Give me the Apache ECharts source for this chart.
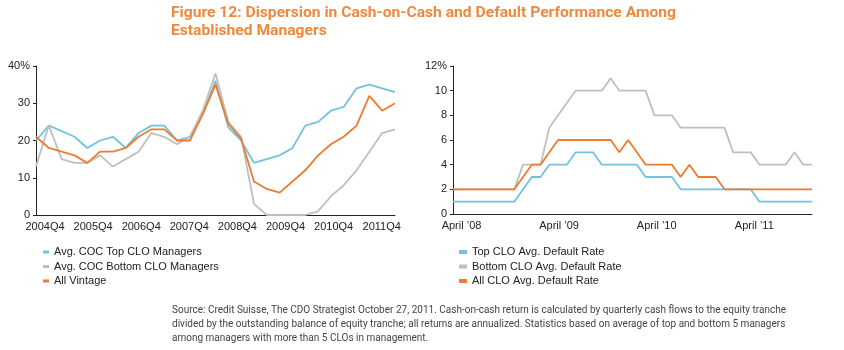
<!DOCTYPE html>
<html>
	<head>
		<meta charset="utf-8">
		<title>Figure 12</title>
		<script src="https://cdn.jsdelivr.net/npm/echarts@6/dist/echarts.min.js"></script>
		<style>
			html, body { margin: 0; padding: 0; background: #fff; }
		</style>
	</head>
	<body>
		<div id="main" style="width: 844px;height: 350px;"></div>
		<script type="text/javascript">
			// left panel: quarterly cash-on-cash returns (%)
			var cocQuarters = ['2004Q4','2005Q1','2005Q2','2005Q3','2005Q4','2006Q1','2006Q2','2006Q3','2006Q4',
				'2007Q1','2007Q2','2007Q3','2007Q4','2008Q1','2008Q2','2008Q3','2008Q4','2009Q1','2009Q2','2009Q3',
				'2009Q4','2010Q1','2010Q2','2010Q3','2010Q4','2011Q1','2011Q2','2011Q3','2011Q4'];
			var cocTickLabels = ['2004Q4','2005Q4','2006Q4','2007Q4','2008Q4','2009Q4','2010Q4','2011Q4'];
			var cocTop    = [20, 24, 22.5, 21, 18, 20, 21, 18, 22, 24, 24, 20, 21, 27, 36, 23.5, 20, 14, 15, 16, 18, 24, 25, 28, 29, 34, 35, 34, 33];
			var cocBottom = [13, 24, 15, 14, 14, 16, 13, 15, 17, 22, 21, 19, 21, 28, 38, 25, 21, 3, 0, 0, 0, 0, 1, 5, 8, 12, 17, 22, 23];
			var cocAll    = [21, 18, 17, 16, 14, 17, 17, 18, 21, 23, 23, 20, 20, 27, 35, 24.5, 20.5, 9, 7, 6, 9, 12, 16, 19, 21, 24, 32, 28, 30];

			// right panel: monthly default rates (%)
			var defMonths = ['Apr-08','May-08','Jun-08','Jul-08','Aug-08','Sep-08','Oct-08','Nov-08','Dec-08',
				'Jan-09','Feb-09','Mar-09','Apr-09','May-09','Jun-09','Jul-09','Aug-09','Sep-09','Oct-09','Nov-09','Dec-09',
				'Jan-10','Feb-10','Mar-10','Apr-10','May-10','Jun-10','Jul-10','Aug-10','Sep-10','Oct-10','Nov-10','Dec-10',
				'Jan-11','Feb-11','Mar-11','Apr-11','May-11','Jun-11','Jul-11','Aug-11','Sep-11'];
			var defTickLabels = ['April \u201908', 'April \u201909', 'April \u201910', 'April \u201911'];
			var defTop    = [1,1,1,1,1,1,1,1,2,3,3,4,4,4,5,5,5,4,4,4,4,4,3,3,3,3,2,2,2,2,2,2,2,2,2,1,1,1,1,1,1,1];
			var defBottom = [2,2,2,2,2,2,2,2,4,4,4,7,8,9,10,10,10,10,11,10,10,10,10,8,8,8,7,7,7,7,7,7,5,5,5,4,4,4,4,5,4,4];
			var defAll    = [2,2,2,2,2,2,2,2,3,4,4,5,6,6,6,6,6,6,6,5,6,5,4,4,4,4,3,4,3,3,3,2,2,2,2,2,2,2,2,2,2,2];

			var titleLines = ['Figure 12: Dispersion in Cash-on-Cash and Default Performance Among', 'Established Managers'];
			var sourceLines = [
				'Source: Credit Suisse, The CDO Strategist October 27, 2011. Cash-on-cash return is calculated by quarterly cash flows to the equity tranche',
				'divided by the outstanding balance of equity tranche; all returns are annualized. Statistics based on average of top and bottom 5 managers',
				'among managers with more than 5 CLOs in management.'
			];

			var BLUE = '#72C2DF', GREY = '#BFBFBF', ORANGE = '#EE7B30';
			var FONT = 'Liberation Sans';

			// squeeze a line of text horizontally to the width it has in the reference
			function fitScale(text, font, target) {
				var ctx = document.createElement('canvas').getContext('2d');
				ctx.font = font;
				return target / ctx.measureText(text).width;
			}
			var titleScale = fitScale(titleLines[0], 'bold 14px Roboto', 505);
			var sourceScale = fitScale(sourceLines[0], '10px Roboto', 614);

			var chartDom = document.getElementById('main');
			var myChart = echarts.init(chartDom);
			var option;

			function line(name, data, color, idx) {
				return {
					name: name,
					type: 'line',
					xAxisIndex: idx * 2,
					yAxisIndex: idx,
					data: data,
					symbol: 'none',
					silent: true,
					lineStyle: { color: color, width: 1.8 },
					itemStyle: { color: color }
				};
			}

			var axisText = { fontFamily: FONT, fontSize: 11, color: '#222' };

			option = {
				animation: false,
				grid: [
					{ left: 36, top: 66, width: 359, height: 149 },
					{ left: 453, top: 66, width: 359, height: 148 }
				],
				xAxis: [
					{
						gridIndex: 0, type: 'category', data: cocQuarters, boundaryGap: false,
						axisLine: { lineStyle: { color: '#222' } },
						axisTick: { show: false }, axisLabel: { show: false }
					},
					{
						// tick labels only
						gridIndex: 0, type: 'value', position: 'bottom', min: 0, max: 359 / 48.1, interval: 1,
						axisLine: { show: false }, axisTick: { show: false }, splitLine: { show: false },
						axisLabel: Object.assign({
							margin: 6, padding: [0, 0, 0, 18], showMaxLabel: false,
							formatter: function (v) { return Number.isInteger(v) ? (cocTickLabels[v] || '') : ''; }
						}, axisText)
					},
					{
						gridIndex: 1, type: 'category', data: defMonths, boundaryGap: false,
						axisLine: { lineStyle: { color: '#222' } },
						axisTick: { show: false }, axisLabel: { show: false }
					},
					{
						gridIndex: 1, type: 'value', position: 'bottom', min: 0, max: 359 / 97.6, interval: 1,
						axisLine: { show: false }, axisTick: { show: false }, splitLine: { show: false },
						axisLabel: Object.assign({
							margin: 6, padding: [0, 0, 0, 17], showMaxLabel: false,
							formatter: function (v) { return Number.isInteger(v) ? (defTickLabels[v] || '') : ''; }
						}, axisText)
					}
				],
				yAxis: [
					{
						gridIndex: 0, type: 'value', min: 0, max: 40, interval: 10,
						axisLine: { show: true, lineStyle: { color: '#222' } },
						axisTick: { show: true, length: 3, lineStyle: { color: '#222' } },
						splitLine: { show: false },
						axisLabel: Object.assign({ margin: 6, formatter: function (v) { return v === 40 ? '40%' : v; } }, axisText)
					},
					{
						gridIndex: 1, type: 'value', min: 0, max: 12, interval: 2,
						axisLine: { show: true, lineStyle: { color: '#222' } },
						axisTick: { show: true, length: 3, lineStyle: { color: '#222' } },
						splitLine: { show: false },
						axisLabel: Object.assign({ margin: 6, formatter: function (v) { return v === 12 ? '12%' : v; } }, axisText)
					}
				],
				legend: [
					{
						orient: 'vertical', left: 38, top: 241, itemWidth: 6, itemHeight: 3, itemGap: 2.5, icon: 'rect',
						selectedMode: false,
						textStyle: { fontFamily: FONT, fontSize: 11, color: '#222', lineHeight: 12 },
						data: ['Avg. COC Top CLO Managers', 'Avg. COC Bottom CLO Managers', 'All Vintage']
					},
					{
						orient: 'vertical', left: 454, top: 241, itemWidth: 8, itemHeight: 4, itemGap: 2.5, icon: 'rect',
						selectedMode: false,
						textStyle: { fontFamily: FONT, fontSize: 11, color: '#222', lineHeight: 12 },
						data: ['Top CLO Avg. Default Rate', 'Bottom CLO Avg. Default Rate', 'All CLO Avg. Default Rate']
					}
				],
				graphic: [
					{
						type: 'text', x: 171, y: 4, scaleX: titleScale, silent: true,
						style: {
							text: titleLines.join('\n'),
							fontFamily: 'Roboto', fontSize: 14, fontWeight: 'bold', lineHeight: 18,
							fill: '#F0883E', verticalAlign: 'top'
						}
					},
					{
						type: 'text', x: 172, y: 303, scaleX: sourceScale, silent: true,
						style: {
							text: sourceLines.join('\n'),
							fontFamily: 'Roboto', fontSize: 10, lineHeight: 14,
							fill: '#444', verticalAlign: 'top'
						}
					}
				],
				series: [
					line('Avg. COC Top CLO Managers', cocTop, BLUE, 0),
					line('Avg. COC Bottom CLO Managers', cocBottom, GREY, 0),
					line('All Vintage', cocAll, ORANGE, 0),
					line('Top CLO Avg. Default Rate', defTop, BLUE, 1),
					line('Bottom CLO Avg. Default Rate', defBottom, GREY, 1),
					line('All CLO Avg. Default Rate', defAll, ORANGE, 1)
				]
			};

			option && myChart.setOption(option);
		</script>
	</body>
</html>
